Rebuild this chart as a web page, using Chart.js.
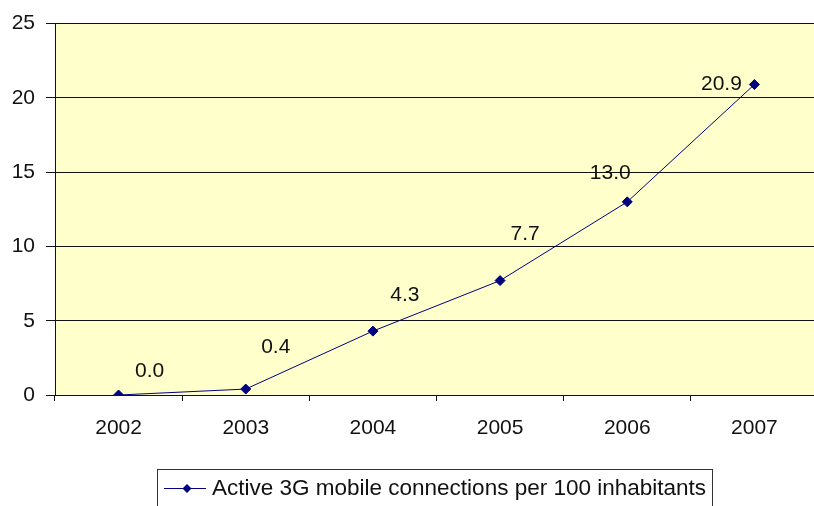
<!DOCTYPE html>
<html>
<head>
<meta charset="utf-8">
<script src="https://cdn.jsdelivr.net/npm/chart.js@4/dist/chart.umd.min.js"></script>
<style>
    html, body { margin: 0; padding: 0; background: #ffffff; overflow: hidden; }
    #wrap { width: 824px; height: 506px; }
</style>
</head>
<body>
<div id="wrap"><canvas id="lineChart" width="824" height="506"></canvas></div>
<script>
// Dados do gráfico
const years = ['2002', '2003', '2004', '2005', '2006', '2007'];
const connections = [0.0, 0.4, 4.3, 7.7, 13.0, 20.9];
const seriesName = 'Active 3G mobile connections per 100 inhabitants';
const yTicks = [0, 5, 10, 15, 20, 25];

const FONT = '"Liberation Sans", Arial, sans-serif';
const NAVY = '#000080';

// Rótulos de valor ao lado de cada ponto (deslocamentos no estilo do Excel)
const labelOffsets = [[31, -24], [30, -42], [32, -36], [25, -46], [-17, -29], [-33, 0]];

const valueLabels = {
    id: 'valueLabels',
    afterDatasetsDraw(chart) {
        const ctx = chart.ctx;
        const meta = chart.getDatasetMeta(0);
        ctx.save();
        ctx.font = '21px ' + FONT;
        ctx.fillStyle = '#111';
        ctx.textAlign = 'center';
        ctx.textBaseline = 'middle';
        meta.data.forEach((pt, i) => {
            const off = labelOffsets[i];
            ctx.fillText(connections[i].toFixed(1), pt.x + off[0], pt.y + off[1]);
        });
        ctx.restore();
    }
};

// Legenda com moldura, desenhada à mão
const boxedLegend = {
    id: 'boxedLegend',
    afterDraw(chart) {
        const ctx = chart.ctx;
        const ds = chart.data.datasets[0];
        ctx.save();
        ctx.strokeStyle = '#333';
        ctx.lineWidth = 1;
        ctx.strokeRect(157.5, 469.5, 555, 50);
        ctx.strokeStyle = ds.borderColor;
        ctx.beginPath();
        ctx.moveTo(164, 488.5);
        ctx.lineTo(206, 488.5);
        ctx.stroke();
        ctx.fillStyle = ds.pointBackgroundColor;
        ctx.beginPath();
        ctx.moveTo(187, 484);
        ctx.lineTo(191.5, 488.5);
        ctx.lineTo(187, 493);
        ctx.lineTo(182.5, 488.5);
        ctx.closePath();
        ctx.fill();
        ctx.font = '22.5px ' + FONT;
        ctx.fillStyle = '#111';
        ctx.textBaseline = 'middle';
        ctx.fillText(ds.label, 212, 489);
        ctx.restore();
    }
};

// Fundo amarelo da área de plotagem
const plotBackground = {
    id: 'plotBackground',
    beforeDraw(chart) {
        const a = chart.chartArea;
        const ctx = chart.ctx;
        ctx.save();
        ctx.fillStyle = '#FFFFCC';
        ctx.fillRect(a.left, a.top, a.right - a.left, a.bottom - a.top);
        ctx.restore();
    }
};

const config = {
    type: 'line',
    data: {
        labels: years,
        datasets: [{
            label: seriesName,
            data: connections,
            borderColor: NAVY,
            borderWidth: 1,
            pointStyle: 'rectRot',
            pointRadius: 5,
            pointBackgroundColor: NAVY,
            pointBorderColor: NAVY,
            tension: 0
        }]
    },
    options: {
        responsive: false,
        animation: false,
        layout: { padding: { top: 19, left: 0, right: 0, bottom: 0 } },
        plugins: {
            legend: { display: false },
            tooltip: { enabled: false }
        },
        scales: {
            x: {
                offset: true,
                afterFit: s => { s.height = 111; },
                grid: {
                    offset: true,
                    drawOnChartArea: false,
                    drawTicks: true,
                    tickLength: 6,
                    color: '#111'
                },
                border: { color: '#111', width: 1 },
                ticks: {
                    padding: 15,
                    color: '#111',
                    font: { family: FONT, size: 21 }
                }
            },
            y: {
                min: 0,
                max: 25,
                afterFit: s => { s.width = 55; },
                afterBuildTicks: s => { s.ticks = yTicks.map(v => ({ value: v })); },
                grid: {
                    color: '#111',
                    tickLength: 9,
                    drawTicks: true
                },
                border: { color: '#111', width: 1 },
                ticks: {
                    padding: 11,
                    color: '#111',
                    font: { family: FONT, size: 21 }
                }
            }
        }
    },
    plugins: [plotBackground, valueLabels, boxedLegend]
};

const lineChart = new Chart(document.getElementById('lineChart'), config);
</script>
</body>
</html>
